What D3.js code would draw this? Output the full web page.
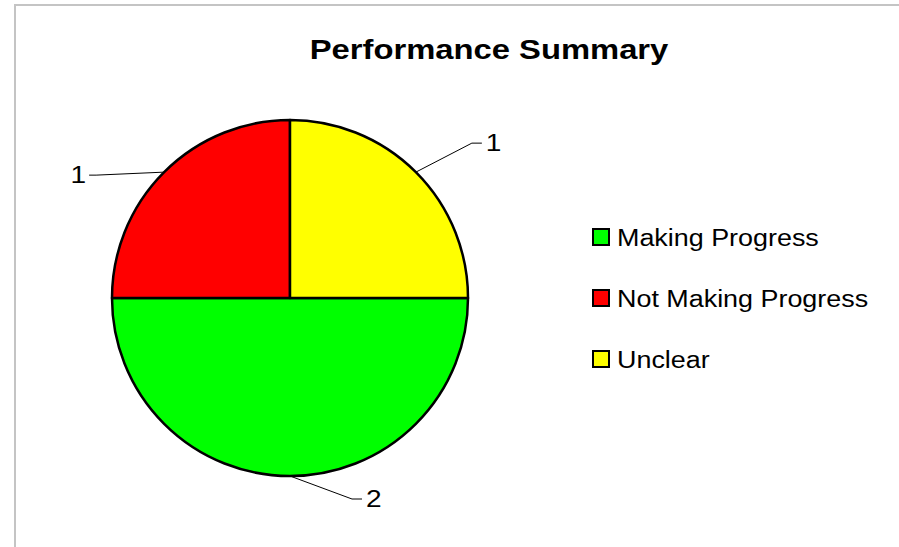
<!DOCTYPE html>
<html>
<head>
  <meta charset="utf-8">
  <title>Performance Summary</title>
  <script src="https://d3js.org/d3.v7.min.js"></script>
  <style>
    body { margin: 0; background: #fff; }
    svg text { font-family: "Liberation Sans", Arial, sans-serif; fill: #000; }
  </style>
</head>
<body>
<div id="chart"></div>
<script>
  // dados
  var categorias = ["Making Progress", "Not Making Progress", "Unclear"];
  var valores = [2, 1, 1];
  var cores = ["#00ff00", "#ff0000", "#ffff00"];
  var titulo = "Performance Summary";

  var largura = 899, altura = 547;
  var esticaX = 1.17; // o texto da figura original eh um pouco esticado na horizontal

  var svg = d3.select("#chart").append("svg")
      .attr("width", largura)
      .attr("height", altura);

  // moldura cinza (so aparecem o topo e a esquerda)
  svg.append("rect")
      .attr("x", 15).attr("y", 5)
      .attr("width", largura + 20).attr("height", altura + 20)
      .attr("fill", "none")
      .attr("stroke", "#c4c4c4")
      .attr("stroke-width", 2);

  function texto(g, x, y, s, tamanho, peso, ancora) {
    return g.append("text")
        .attr("transform", "translate(" + x + "," + y + ") scale(" + esticaX + ",1)")
        .attr("text-anchor", ancora || "start")
        .style("font-size", tamanho + "px")
        .style("font-weight", peso || "normal")
        .text(s);
  }

  texto(svg, 489, 59, titulo, 28, "bold", "middle");

  // pizza
  var cx = 290, cy = 298, raio = 178;
  var dados = categorias.map((c, i) => ({ nome: c, valor: valores[i], cor: cores[i] }));

  var pie = d3.pie()
      .value(d => d.valor)
      .sort(null)
      .startAngle(Math.PI / 2)
      .endAngle(Math.PI / 2 + 2 * Math.PI);

  var arco = d3.arc().innerRadius(0).outerRadius(raio);
  var borda = d3.arc().innerRadius(raio).outerRadius(raio);

  var g = svg.append("g").attr("transform", "translate(" + cx + "," + cy + ")");
  var fatias = pie(dados);

  g.selectAll("path.fatia")
      .data(fatias)
      .enter()
      .append("path")
      .attr("class", "fatia")
      .attr("d", arco)
      .attr("fill", d => d.data.cor)
      .attr("stroke", "#000")
      .attr("stroke-width", 2.5)
      .attr("stroke-linejoin", "round");

  // linhas de chamada e rotulos (deslocamentos como no original)
  var chamadas = [
    { dx: 62, dy: 23, h: 10 },
    { dx: -68, dy: 3, h: -7 },
    { dx: 56, dy: -29, h: 10 }
  ];

  fatias.forEach(function(d, i) {
    var p = borda.centroid(d);
    var c = chamadas[i];
    var cotovelo = [p[0] + c.dx, p[1] + c.dy];
    var fim = [cotovelo[0] + c.h, cotovelo[1]];
    g.append("path")
        .attr("d", d3.line()([p, cotovelo, fim]))
        .attr("fill", "none")
        .attr("stroke", "#000")
        .attr("stroke-width", 1);
    var direita = c.h > 0;
    texto(g, fim[0] + (direita ? 4 : -3), fim[1] + 8, d.data.valor, 24, "normal", direita ? "start" : "end");
  });

  // legenda
  var legenda = svg.append("g").attr("transform", "translate(592,228)");
  var itens = legenda.selectAll("g")
      .data(dados)
      .enter()
      .append("g")
      .attr("transform", (d, i) => "translate(0," + (i * 61) + ")");

  itens.append("rect")
      .attr("x", 1).attr("y", 1)
      .attr("width", 16).attr("height", 16)
      .attr("fill", d => d.cor)
      .attr("stroke", "#000")
      .attr("stroke-width", 2);

  itens.each(function(d) {
    texto(d3.select(this), 25, 18, d.nome, 23);
  });
</script>
</body>
</html>
